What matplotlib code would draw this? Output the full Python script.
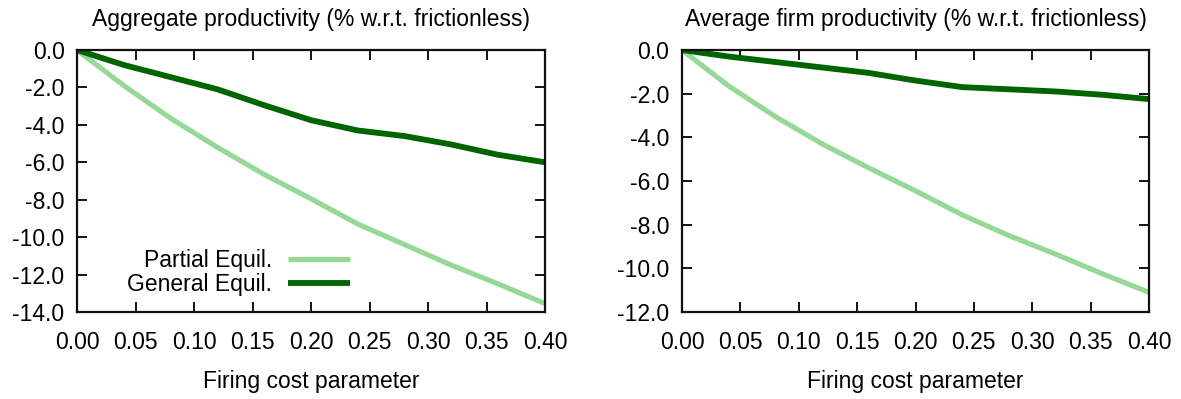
import matplotlib
matplotlib.use("Agg")
import matplotlib.pyplot as plt

plt.rcParams['font.family'] = ['Liberation Sans', 'DejaVu Sans']

firing_cost = [0.00, 0.04, 0.08, 0.12, 0.16, 0.20, 0.24, 0.28, 0.32, 0.36, 0.40]

# Aggregate productivity (% w.r.t. frictionless)
agg_partial = [0.0, -1.9, -3.65, -5.2, -6.65, -7.95, -9.3, -10.4, -11.5, -12.5, -13.55]
agg_general = [0.0, -0.8, -1.45, -2.1, -2.95, -3.75, -4.3, -4.6, -5.05, -5.6, -6.0]

# Average firm productivity (% w.r.t. frictionless)
avg_partial = [0.0, -1.65, -3.05, -4.3, -5.4, -6.45, -7.55, -8.5, -9.35, -10.25, -11.1]
avg_general = [0.0, -0.3, -0.55, -0.8, -1.05, -1.4, -1.7, -1.8, -1.9, -2.05, -2.25]

titles = ["Aggregate productivity (% w.r.t. frictionless)",
          "Average firm productivity (% w.r.t. frictionless)"]
xlabel = "Firing cost parameter"
series_labels = ["Partial Equil.", "General Equil."]
x_ticks = [0.00, 0.05, 0.10, 0.15, 0.20, 0.25, 0.30, 0.35, 0.40]
y_ticks_agg = [0, -2, -4, -6, -8, -10, -12, -14]
y_ticks_avg = [0, -2, -4, -6, -8, -10, -12]

light_green = "#96d996"
dark_green = "#006400"
fs = 16.5

fig = plt.figure(figsize=(11.81, 3.99), dpi=100)
ax1 = fig.add_axes([77/1181, 1 - 312/399, (545 - 77)/1181, (312 - 50)/399])
ax2 = fig.add_axes([682/1181, 1 - 312/399, (1149 - 682)/1181, (312 - 50)/399])

panels = [
    (ax1, agg_partial, agg_general, y_ticks_agg, titles[0]),
    (ax2, avg_partial, avg_general, y_ticks_avg, titles[1]),
]

for ax, pe, ge, yt, title in panels:
    ax.plot(firing_cost, pe, color=light_green, lw=3.7, label=series_labels[0],
            solid_capstyle='butt')
    ax.plot(firing_cost, ge, color=dark_green, lw=4.2, label=series_labels[1],
            solid_capstyle='butt')
    ax.set_xlim(0, 0.40)
    ax.set_ylim(min(yt), 0)
    ax.set_xticks(x_ticks)
    ax.set_xticklabels([f"{v:.2f}" for v in x_ticks])
    ax.set_yticks(yt)
    ax.set_yticklabels([f"{v:.1f}" for v in yt])
    ax.tick_params(direction='in', length=7, width=1.3, labelsize=fs,
                   top=True, right=True, pad=9)
    ax.tick_params(axis='x', pad=14)
    for sp in ax.spines.values():
        sp.set_linewidth(1.6)
        sp.set_color("#111111")
    ax.set_title(title, fontsize=fs, pad=17)
    ax.set_xlabel(xlabel, fontsize=fs, labelpad=11)

ax1.legend(loc='lower right', bbox_to_anchor=(0.622, -0.01), frameon=False,
           markerfirst=False, fontsize=fs, handlelength=2.7, handletextpad=0.7,
           labelspacing=0.05, borderpad=0.3)

fig.savefig("out.png", dpi=100)
